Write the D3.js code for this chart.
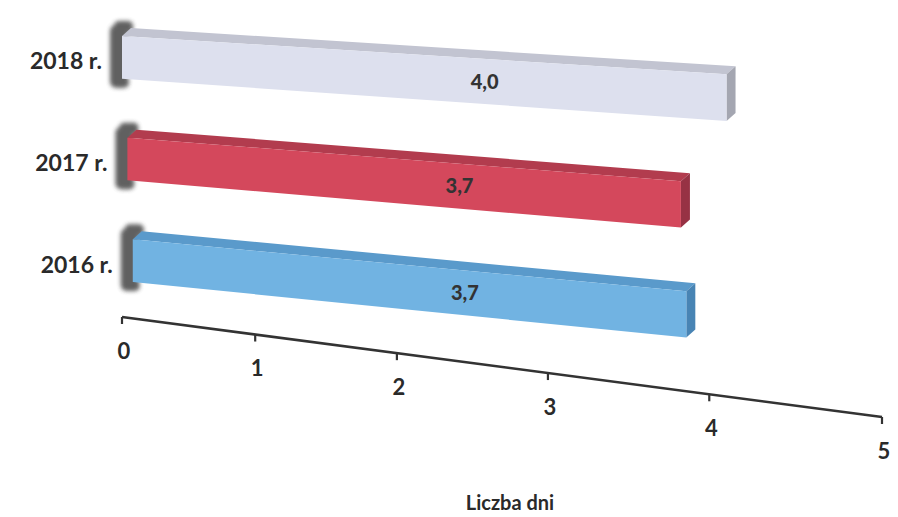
<!DOCTYPE html>
<html><head><meta charset="utf-8">
<script src="https://cdn.jsdelivr.net/npm/d3@7"></script>
<style>body{margin:0;background:#fff}</style>
</head><body><svg id="c" width="898" height="517"></svg>
<script>
// ---- data ----
const categories = ["2018 r.", "2017 r.", "2016 r."];
const values = [4.0, 3.7, 3.7];
const valueLabels = ["4,0", "3,7", "3,7"];
const tickValues = [0, 1, 2, 3, 4, 5];
const tickLabels = ["0", "1", "2", "3", "4", "5"];
const axisTitle = "Liczba dni";

// ---- styles ----
const frontColors = ["#dde0ee", "#d4485c", "#71b3e2"];
const topColors = ["#c2c4d1", "#b23c4e", "#5a9acb"];
const sideColors = ["#a4a6b1", "#973244", "#4884b4"];
const FONT = "Lato, 'Open Sans', sans-serif";

const svg = d3.select("#c");
const defs = svg.append("defs");
defs.append("filter").attr("id", "blur").attr("x", "-60%").attr("y", "-60%").attr("width", "220%").attr("height", "220%")
  .append("feGaussianBlur").attr("stdDeviation", 2.3);

// ---- scales ----
const row = d3.scaleBand().domain(categories).range([36, 282]).paddingInner(0.58).paddingOuter(0);
const t = d3.scaleLinear().domain([0, 5]).range([0, 1]);
const persp = (k, g) => v => k * t(v) / (1 + g * t(v));
const barLen = persp(665, -0.15);
const axisLen = persp(646, -0.15);
const leftX = y => 122 + 0.053 * (y - 36);
const slope = y => 0.058 + 0.00015 * y;
const depth = {x: 9, y: -8};

// ---- bars ----
categories.forEach((c, i) => {
  const v = values[i];
  const yT = row(c), yB = yT + row.bandwidth();
  const x0 = leftX(yT);
  const X = x0 + barLen(v);
  const yTR = yT + slope(yT) * (X - x0);
  const yBR = yB + slope(yB) * (X - x0);
  const g = svg.append("g");
  // left dark base blob
  const blob = g.append("g").attr("filter", "url(#blur)").attr("fill", "#505050").attr("opacity", 0.9);
  blob.append("rect").attr("x", x0 - 12).attr("y", yT - 11).attr("width", 18).attr("height", yB - yT + 20).attr("rx", 6);
  blob.append("rect").attr("x", x0 - 8).attr("y", yT - 15).attr("width", 19).attr("height", 12).attr("rx", 5);
  blob.append("rect").attr("x", x0 - 8).attr("y", yB - 2).attr("width", 15).attr("height", 11).attr("rx", 5);
  const poly = pts => "M" + pts.map(p => p.join(",")).join("L") + "Z";
  // top face
  g.append("path").attr("d", poly([[x0, yT], [X, yTR], [X + depth.x, yTR + depth.y], [x0 + depth.x, yT + depth.y]]))
    .attr("fill", topColors[i]);
  // side face
  g.append("path").attr("d", poly([[X, yTR], [X + depth.x, yTR + depth.y], [X + depth.x, yBR + depth.y], [X, yBR]]))
    .attr("fill", sideColors[i]);
  // front face
  g.append("path").attr("d", poly([[x0, yT], [X, yTR], [X, yBR], [x0, yB]]))
    .attr("fill", frontColors[i]);
  // value label
  const lx = x0 + 0.6 * (X - x0);
  const ly = (yT + slope(yT) * (lx - x0) + yB + slope(yB) * (lx - x0)) / 2;
  g.append("text").attr("x", lx).attr("y", ly).attr("dy", "0.35em").attr("text-anchor", "middle")
    .attr("font-family", FONT).attr("font-weight", "900").attr("font-size", 20).attr("fill", "#333")
    .text(valueLabels[i]);
  // category label
  svg.append("text").attr("x", x0 - 20).attr("y", (yT + yB) / 2 + 4).attr("dy", "0.35em").attr("text-anchor", "end")
    .attr("font-family", FONT).attr("font-weight", "bold").attr("font-size", 23).attr("fill", "#2a2a2a")
    .text(c);
});

// ---- value axis ----
const ax = v => 122 + axisLen(v);
const ay = v => 317 + 0.1316 * axisLen(v);
const axis = svg.append("g");
axis.append("line").attr("x1", ax(0)).attr("y1", ay(0)).attr("x2", ax(5)).attr("y2", ay(5))
  .attr("stroke", "#333").attr("stroke-width", 2.5);
axis.selectAll("line.tick").data(tickValues).join("line").attr("class", "tick")
  .attr("x1", d => ax(d)).attr("y1", d => ay(d)).attr("x2", d => ax(d)).attr("y2", d => ay(d) + 7)
  .attr("stroke", "#333").attr("stroke-width", 2.2);
axis.selectAll("text").data(tickValues).join("text")
  .attr("x", d => ax(d) + 2).attr("y", d => ay(d) + 34).attr("dy", "0.35em").attr("text-anchor", "middle")
  .attr("font-family", FONT).attr("font-weight", "bold").attr("font-size", 22).attr("fill", "#2a2a2a")
  .text((d, i) => tickLabels[i]);

svg.append("text").attr("x", 510).attr("y", 503).attr("dy", "0.35em").attr("text-anchor", "middle")
  .attr("font-family", FONT).attr("font-weight", "bold").attr("font-size", 20).attr("fill", "#2a2a2a")
  .text(axisTitle);
</script>
</body></html>
